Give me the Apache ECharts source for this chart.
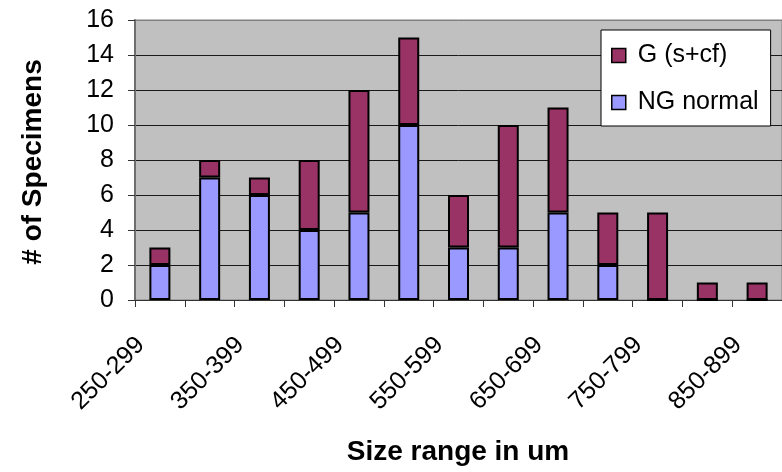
<!DOCTYPE html>
<html>
<head>
<meta charset="utf-8">
<script src="https://cdn.jsdelivr.net/npm/echarts@6/dist/echarts.min.js"></script>
<style>
html,body{margin:0;padding:0;background:#fff;}
#chart{width:782px;height:472px;}
</style>
</head>
<body>
<div id="chart"></div>
<script>
const categories = ['250-299','300-349','350-399','400-449','450-499','500-549','550-599','600-649','650-699','700-749','750-799','800-849','850-899'];
const ngNormal = [2,7,6,4,5,10,3,3,5,2,0,0,0];
const gScf = [1,1,1,4,7,5,3,7,6,3,5,1,1];
const yTicks = [0,2,4,6,8,10,12,14,16];
const seriesNames = ['NG normal','G (s+cf)'];
const xTitle = 'Size range in um';
const yTitle = '# of Specimens';

const FONT = 'Liberation Sans';
const chart = echarts.init(document.getElementById('chart'), null, {renderer:'canvas'});
const splitColors = yTicks.map((v,i)=> i===yTicks.length-1 ? '#808080' : '#1a1a1a');

chart.setOption({
  animation:false,
  backgroundColor:'#ffffff',
  textStyle:{fontFamily:FONT},
  grid:{left:135, right:0, top:20, bottom:172, show:true, backgroundColor:'#C0C0C0', borderColor:'#808080', borderWidth:1},
  legend:{
    orient:'vertical', left:601, top:30,
    data:[seriesNames[1], seriesNames[0]],
    backgroundColor:'#ffffff', borderColor:'#000000', borderWidth:1,
    padding:[13,12,11,10],
    itemWidth:14, itemHeight:14, itemGap:22,
    icon:'rect',
    itemStyle:{borderColor:'#000', borderWidth:1.5},
    textStyle:{fontFamily:FONT, fontSize:25, color:'#000', lineHeight:25, padding:[0,0,0,7]}
  },
  xAxis:{
    type:'category', data:categories, boundaryGap:true,
    axisLine:{lineStyle:{color:'#333', width:1}},
    axisTick:{show:true, interval:0, length:7, inside:false, lineStyle:{color:'#333'}},
    axisLabel:{interval:1, rotate:45, fontFamily:FONT, fontSize:25, color:'#000', margin:22, padding:[0,27,0,0]},
    splitLine:{show:false}
  },
  yAxis:{
    type:'value', min:yTicks[0], max:yTicks[yTicks.length-1], interval:2,
    axisLine:{show:true, lineStyle:{color:'#6e6e6e', width:2}},
    axisTick:{show:true, length:7, lineStyle:{color:'#333'}},
    axisLabel:{fontFamily:FONT, fontSize:25, color:'#000', margin:21},
    splitLine:{show:true, lineStyle:{color:splitColors, width:1}}
  },
  graphic:[
    {type:'text', x:33, y:162, rotation:Math.PI/2, style:{text:yTitle, fontFamily:FONT, fontWeight:'bold', fontSize:28, fill:'#000', align:'center', verticalAlign:'middle'}},
    {type:'text', x:458, y:452, style:{text:xTitle, fontFamily:FONT, fontWeight:'bold', fontSize:28, fill:'#000', align:'center', verticalAlign:'middle'}}
  ],
  series:[
    {name:seriesNames[0], type:'bar', stack:'s', data:ngNormal, barWidth:21,
     itemStyle:{color:'#9999FF', borderColor:'#000', borderWidth:2}},
    {name:seriesNames[1], type:'bar', stack:'s', data:gScf, barWidth:21,
     itemStyle:{color:'#993366', borderColor:'#000', borderWidth:2}}
  ]
});
</script>
</body>
</html>
